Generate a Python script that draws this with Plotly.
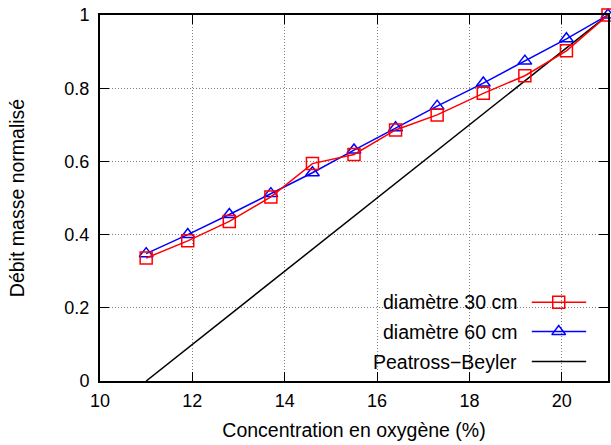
import plotly.graph_objects as go

# Data
oxygen = [11.0, 11.9, 12.8, 13.7, 14.6, 15.5, 16.4, 17.3, 18.3, 19.2, 20.1, 21.0]
d30 = [0.336, 0.383, 0.436, 0.503, 0.594, 0.619, 0.686, 0.727, 0.786, 0.834, 0.902, 1.0]
d60 = [0.348, 0.400, 0.455, 0.512, 0.569, 0.631, 0.692, 0.751, 0.814, 0.874, 0.935, 1.0]
pb_x = [11.0, 21.0]
pb_y = [0.0, 1.0]

series_names = ["diamètre 30 cm", "diamètre 60 cm", "Peatross\u2212Beyler"]
x_ticks = [10, 12, 14, 16, 18, 20]
y_ticks = [0, 0.2, 0.4, 0.6, 0.8, 1]
y_tick_text = ["0", "0.2", "0.4", "0.6", "0.8", "1"]

FONT = "Liberation Sans, Arial, Helvetica, sans-serif"
FS_TICK = 18
FS = 19.5
FS_LEG = 19.5
RED = "#ff0000"
BLUE = "#0000ff"

fig = go.Figure()

fig.add_trace(go.Scatter(x=pb_x, y=pb_y, mode="lines", line=dict(color="black", width=1.5),
                         name=series_names[2], showlegend=False, cliponaxis=False))
fig.add_trace(go.Scatter(x=oxygen, y=d60, mode="lines+markers", line=dict(color=BLUE, width=1.5),
                         marker=dict(symbol="triangle-up-open", size=12, color=BLUE, line=dict(width=1.5, color=BLUE)),
                         name=series_names[1], showlegend=False, cliponaxis=False))
fig.add_trace(go.Scatter(x=oxygen, y=d30, mode="lines+markers", line=dict(color=RED, width=1.5),
                         marker=dict(symbol="square-open", size=12, color=RED, line=dict(width=1.5, color=RED)),
                         name=series_names[0], showlegend=False, cliponaxis=False))

# Legend (gnuplot-style: text right-aligned, sample on the right), drawn on an overlay axis
leg_y = [0.215, 0.135, 0.053]
leg_styles = [
    dict(color=RED, symbol="square-open"),
    dict(color=BLUE, symbol="triangle-up-open"),
    dict(color="black", symbol=None),
]
for name, ly, st in zip(series_names, leg_y, leg_styles):
    fig.add_trace(go.Scatter(x=[0.850, 0.957], y=[ly, ly], mode="lines", xaxis="x2", yaxis="y2",
                             line=dict(color=st["color"], width=1.5), showlegend=False, hoverinfo="skip"))
    if st["symbol"]:
        fig.add_trace(go.Scatter(x=[0.903], y=[ly], mode="markers", xaxis="x2", yaxis="y2",
                                 marker=dict(symbol=st["symbol"], size=12, color=st["color"],
                                             line=dict(width=1.5, color=st["color"])),
                                 showlegend=False, hoverinfo="skip"))
    fig.add_annotation(x=0.825, y=ly, xref="paper", yref="paper", text=name, showarrow=False,
                       xanchor="right", yanchor="middle", font=dict(family=FONT, size=FS_LEG, color="black"))

# white box behind legend hiding the grid
fig.add_shape(type="rect", xref="paper", yref="paper", x0=0.476, x1=1.0, y0=0.0, y1=0.257,
              fillcolor="white", line=dict(width=0), layer="between")

axis_common = dict(showline=True, linecolor="black", linewidth=2, mirror="ticks",
                   ticks="inside", ticklen=9, tickwidth=1, tickcolor="black",
                   showgrid=True, gridcolor="#808080", griddash="1px,2px", gridwidth=1,
                   zeroline=False, automargin=False, ticklabeloverflow="allow",
                   tickfont=dict(family=FONT, size=FS_TICK, color="black"))

fig.update_layout(
    width=611, height=445,
    margin=dict(l=100, r=3, t=15, b=64),
    paper_bgcolor="white", plot_bgcolor="white",
    font=dict(family=FONT, size=FS, color="black"),
    hovermode=False,
    xaxis=dict(range=[10, 21], tickvals=x_ticks, ticklabelstandoff=2,
               title=dict(text="Concentration en oxygène (%)", font=dict(family=FONT, size=FS), standoff=14),
               **axis_common),
    yaxis=dict(range=[0, 1], tickvals=y_ticks, ticktext=y_tick_text, ticklabelstandoff=5,
               title=dict(text="Débit masse normalisé", font=dict(family=FONT, size=FS), standoff=35),
               **axis_common),
    xaxis2=dict(range=[0, 1], overlaying="x", visible=False, fixedrange=True),
    yaxis2=dict(range=[0, 1], overlaying="y", visible=False, fixedrange=True),
)

# remove the browser's default 8px body margin so the figure fills the window exactly
fig.write_html("out.html", config={"displayModeBar": False, "staticPlot": True},
               post_script="document.body.style.margin='0';document.body.style.overflow='hidden';")
